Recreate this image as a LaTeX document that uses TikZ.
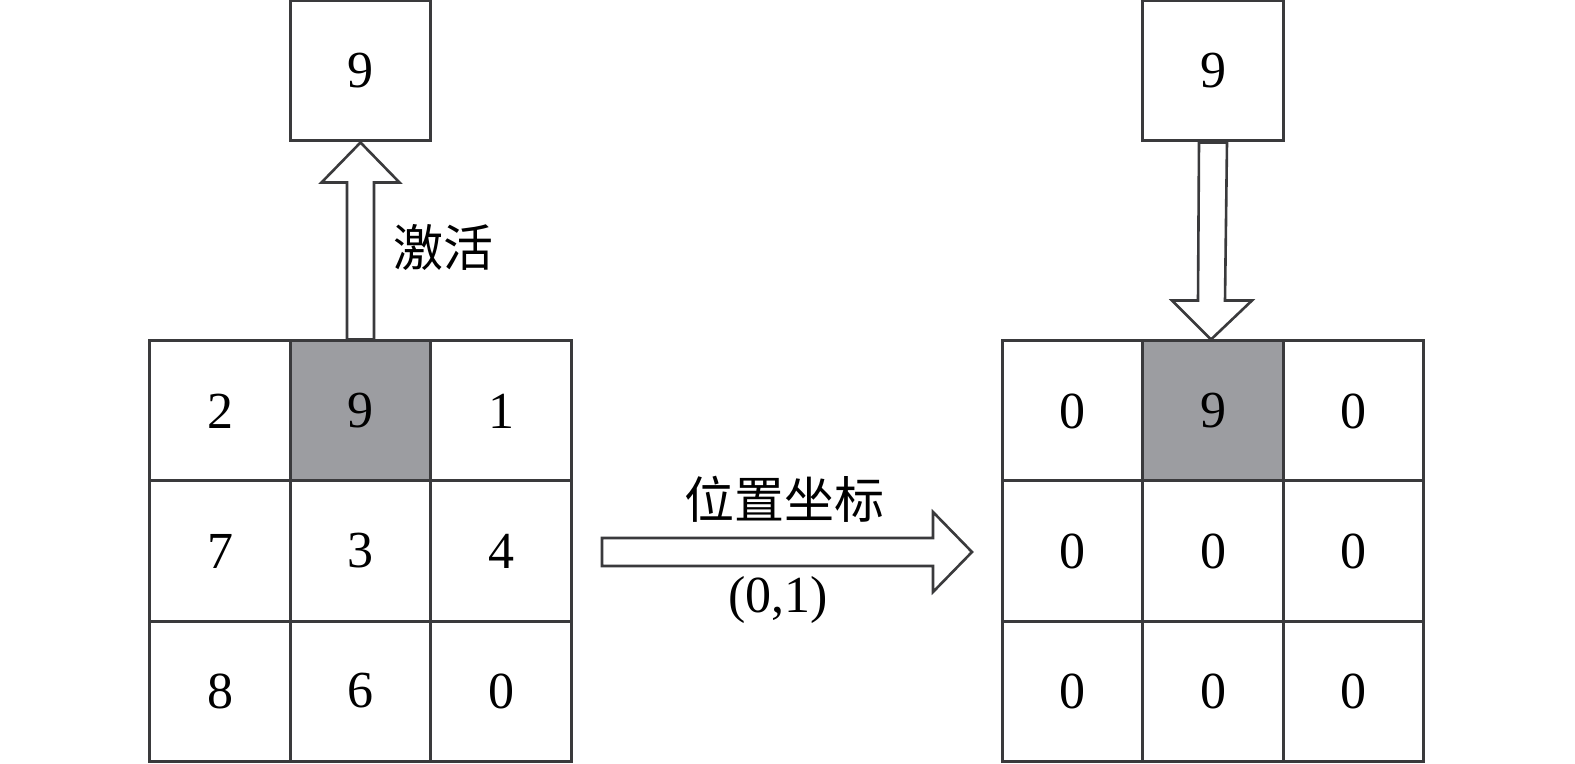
\documentclass[tikz,border=0pt]{standalone}
\usepackage{fontspec}
\setmainfont{Liberation Serif}
\newfontfamily\cjk{Noto Sans CJK SC}
\usetikzlibrary{calc}
\definecolor{edge}{RGB}{58,58,60}
\definecolor{hot}{RGB}{156,157,161}
\begin{document}
\begin{tikzpicture}[x=0.5pt,y=-0.5pt,
  cell/.style={draw=edge,line width=1.5pt,minimum width=70.3pt,minimum height=70pt,inner sep=0pt,font=\fontsize{26}{30}\selectfont},
  hotcell/.style={cell,fill=hot},
  fat/.style={draw=edge,line width=1.3pt,fill=white,line join=miter},
  lbl/.style={inner sep=0pt,font=\fontsize{26}{30}\selectfont},
  cjklbl/.style={inner sep=0pt,font=\fontsize{25}{29}\selectfont\cjk}]
\useasboundingbox (0,0) rectangle (1575,764);
% left grid
\node[cell] (a11) at (220,411) {2};
\node[hotcell] (a12) at (360.5,411) {9};
\node[cell] (a13) at (501,411) {1};
\node[cell] (a21) at (220,551) {7};
\node[cell] (a22) at (360.5,551) {3};
\node[cell] (a23) at (501,551) {4};
\node[cell] (a31) at (220,691) {8};
\node[cell] (a32) at (360.5,691) {6};
\node[cell] (a33) at (501,691) {0};
\node[cell] (atop) at (360.5,71) {9};
% right grid
\node[cell] (b11) at (1072.5,411) {0};
\node[hotcell] (b12) at (1213,411) {9};
\node[cell] (b13) at (1353.5,411) {0};
\node[cell] (b21) at (1072.5,551) {0};
\node[cell] (b22) at (1213,551) {0};
\node[cell] (b23) at (1353.5,551) {0};
\node[cell] (b31) at (1072.5,691) {0};
\node[cell] (b32) at (1213,691) {0};
\node[cell] (b33) at (1353.5,691) {0};
\node[cell] (btop) at (1213,71) {9};
% up arrow (activation)
\draw[fat] ($(a12.north)+(-13.5,0)$) -- ($(atop.south)+(-13.5,40)$) -- ($(atop.south)+(-39,40)$)
  -- (atop.south) -- ($(atop.south)+(39,40)$) -- ($(atop.south)+(13.5,40)$) -- ($(a12.north)+(13.5,0)$) -- cycle;
\node[cjklbl] (act) at (443,248) {激活};
% down arrow
\draw[fat] ($(btop.south)+(-14,0)$) -- ($(b12.north)+(-15,-39)$) -- ($(b12.north)+(-41,-39)$)
  -- ($(b12.north)+(-2,0)$) -- ($(b12.north)+(39,-39)$) -- ($(b12.north)+(12,-39)$) -- ($(btop.south)+(14,0)$) -- cycle;
% right arrow
\coordinate (rs) at (602,552);
\coordinate (re) at (972,552);
\draw[fat] ($(rs)+(0,-14)$) -- ($(re)+(-39,-14)$) -- ($(re)+(-39,-40)$) -- (re)
  -- ($(re)+(-39,40)$) -- ($(re)+(-39,14)$) -- ($(rs)+(0,14)$) -- cycle;
\node[cjklbl] (pos) at (784,499) {位置坐标};
\node[lbl] (coord) at (778,600) {(0,1)};
\end{tikzpicture}
\end{document}
